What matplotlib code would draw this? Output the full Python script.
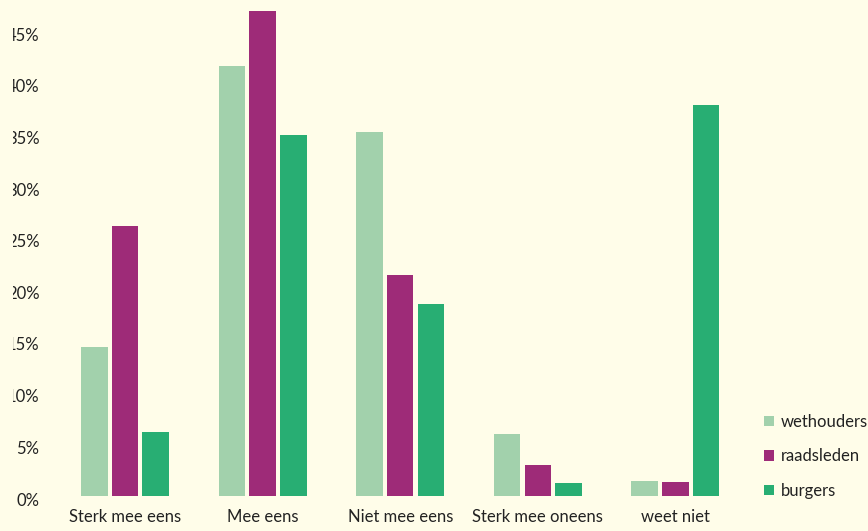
import matplotlib
matplotlib.use("Agg")
import matplotlib.pyplot as plt
import numpy as np
from matplotlib.patches import Patch
from matplotlib.transforms import Bbox, TransformedBbox, ScaledTranslation

categories = ["Sterk mee eens", "Mee eens", "Niet mee eens", "Sterk mee oneens", "weet niet"]
series_names = ["wethouders", "raadsleden", "burgers"]
wethouders = [14.4, 41.6, 35.2, 6.0, 1.5]
raadsleden = [26.1, 46.9, 21.4, 3.0, 1.4]
burgers = [6.2, 34.9, 18.6, 1.3, 37.8]
yticks = [0, 5, 10, 15, 20, 25, 30, 35, 40, 45]
ytick_labels = [f"{v}%" for v in yticks]

colors = ["#a2d1ac", "#9e2b78", "#28ae73"]
bg = "#fffde9"
text_color = "#222222"

plt.rcParams['font.family'] = ['Lato', 'DejaVu Sans']

W, H = 868, 531
fig = plt.figure(figsize=(W / 100, H / 100), dpi=100, facecolor=bg)
left_px, right_px = 56.2, 744.2
bottom_px = 496
ax = fig.add_axes([left_px / W, (H - bottom_px) / H, (right_px - left_px) / W, bottom_px / H])
ax.set_facecolor(bg)

x = np.arange(len(categories))
width = 0.193
pitch = 0.223
for i, (vals, c, name) in enumerate(zip([wethouders, raadsleden, burgers], colors, series_names)):
    ax.bar(x + (i - 1) * pitch, vals, width=width, color=c, label=name, linewidth=0)

ax.set_xlim(-0.5, len(categories) - 0.5)
ax.set_ylim(0, 48)
ax.set_yticks(yticks)
ax.set_yticklabels(ytick_labels)
ax.set_xticks(x)
ax.set_xticklabels(categories)
ax.tick_params(axis='both', length=0, labelsize=12, colors=text_color)
ax.tick_params(axis='y', pad=12)
ax.tick_params(axis='x', pad=9)
for s in ax.spines.values():
    s.set_visible(False)

# clip the y tick labels at the left edge as in the reference, nudge down slightly
clipbox = TransformedBbox(Bbox([[13 / W, 0], [1, 1]]), fig.transFigure)
offset = ScaledTranslation(0, -3 / 100, fig.dpi_scale_trans)
for lab in ax.get_yticklabels():
    lab.set_transform(lab.get_transform() + offset)
    lab.set_clip_box(clipbox)
    lab.set_clip_on(True)

handles = [Patch(facecolor=c, edgecolor='none') for c in colors]
fig.legend(handles, series_names, loc='upper left', bbox_to_anchor=(764 / W, 1 - 414 / H),
           frameon=False, fontsize=12, handlelength=0.6, handleheight=0.6,
           handletextpad=0.4, labelspacing=1.1, labelcolor=text_color,
           borderaxespad=0, borderpad=0)

fig.savefig("out.png", dpi=100, facecolor=bg)
